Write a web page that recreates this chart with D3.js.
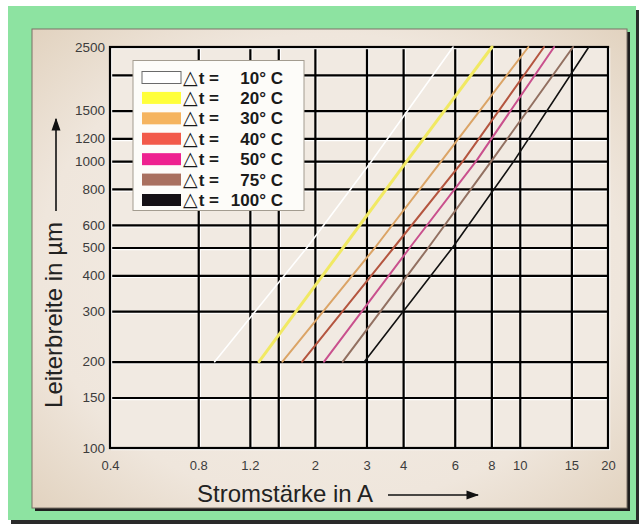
<!DOCTYPE html>
<html>
<head>
<meta charset="utf-8">
<script src="https://cdn.jsdelivr.net/npm/d3@7"></script>
<style>
  html, body { margin: 0; padding: 0; background: #ffffff; }
  svg { display: block; font-family: "Liberation Sans", Arial, sans-serif; }
</style>
</head>
<body>
<div id="chart"></div>
<script>
const widths = [200, 500, 1000, 2500];

// Stromstärke (A) je Temperaturerhöhung
const current10 = [0.91, 1.88, 3.12, 5.92];
const current20 = [1.29, 2.50, 4.12, 8.04];
const current30 = [1.55, 3.21, 5.40, 10.7];
const current40 = [1.81, 3.72, 6.40, 12.1];
const current50 = [2.15, 4.22, 7.10, 13.1];
const current75 = [2.49, 4.88, 8.00, 15.2];
const current100 = [2.95, 5.90, 9.55, 17.2];

const deltaT = ['10° C', '20° C', '30° C', '40° C', '50° C', '75° C', '100° C'];

const xTickLabels = [0.4, 0.8, 1.2, 2, 3, 4, 6, 8, 10, 15, 20];
const xGrid = [0.8, 1.2, 1.5, 2, 3, 4, 6, 8, 10, 15];
const yTickLabels = [100, 150, 200, 300, 400, 500, 600, 800, 1000, 1200, 1500, 2500];
const yGrid = [150, 200, 300, 400, 500, 600, 800, 1000, 1200, 1500, 2000];

const series = [current10, current20, current30, current40, current50, current75, current100];
const lineColors = ['#ffffff', '#f1e963', '#dba466', '#b4553f', '#c9508d', '#927061', '#111111'];
const lineWidths = [1.6, 3, 2, 2, 2, 2, 1.6];
const swatchColors = ['#ffffff', '#ffff3a', '#f5b45f', '#f25a4a', '#ee2290', '#a9705f', '#141014'];

const W = 639, H = 531;
const plot = { left: 110, right: 608, top: 47, bottom: 448 };

const svg = d3.select('#chart').append('svg')
    .attr('width', W)
    .attr('height', H);

const defs = svg.append('defs');
const grad = defs.append('radialGradient')
    .attr('id', 'paper')
    .attr('cx', '50%').attr('cy', '50%').attr('r', '70%');
grad.append('stop').attr('offset', '0%').attr('stop-color', '#f4eee7');
grad.append('stop').attr('offset', '70%').attr('stop-color', '#efe6dc');
grad.append('stop').attr('offset', '100%').attr('stop-color', '#e2d3c0');

// grüner Hintergrund mit Schatten
svg.append('rect').attr('x', 11).attr('y', 10).attr('width', 628).attr('height', 514).attr('fill', '#2a2a2a');
svg.append('rect').attr('x', 8).attr('y', 6).attr('width', 628).attr('height', 514).attr('fill', '#8de3a1');

// Papierfläche
svg.append('rect').attr('x', 35).attr('y', 32).attr('width', 595).attr('height', 479).attr('fill', '#1e1e1e');
svg.append('rect').attr('x', 32).attr('y', 29).attr('width', 595).attr('height', 479)
    .attr('fill', 'url(#paper)')
    .attr('stroke', '#7a7166').attr('stroke-width', 1);

// Skalen
const x = d3.scaleLog().domain([0.4, 20]).range([plot.left, plot.right]);
const y = d3.scaleLog().domain([100, 2500]).range([plot.bottom, plot.top]);
const innerW = plot.right - plot.left;
const innerH = plot.bottom - plot.top;

svg.append('rect')
    .attr('x', plot.left).attr('y', plot.top)
    .attr('width', innerW).attr('height', innerH)
    .attr('fill', '#f1eae2');

// Gitter: heller Schein, dann schwarze Linien
function drawGrid(offset, color, width) {
    const gx = svg.append('g')
        .attr('transform', `translate(${offset},${plot.bottom + offset})`)
        .call(d3.axisBottom(x).tickValues(xGrid).tickSize(-innerH).tickFormat(''));
    gx.select('.domain').remove();
    gx.selectAll('line').attr('stroke', color).attr('stroke-width', width);

    const gy = svg.append('g')
        .attr('transform', `translate(${plot.left + offset},${offset})`)
        .call(d3.axisLeft(y).tickValues(yGrid).tickSize(-innerW).tickFormat(''));
    gy.select('.domain').remove();
    gy.selectAll('line').attr('stroke', color).attr('stroke-width', width);
}
drawGrid(1.6, '#ffffff', 1.2);
drawGrid(0, '#000000', 2.2);

svg.append('rect')
    .attr('x', plot.left + 1.6).attr('y', plot.top + 1.6)
    .attr('width', innerW).attr('height', innerH)
    .attr('fill', 'none').attr('stroke', '#ffffff').attr('stroke-width', 1.2);
svg.append('rect')
    .attr('x', plot.left).attr('y', plot.top)
    .attr('width', innerW).attr('height', innerH)
    .attr('fill', 'none').attr('stroke', '#000000').attr('stroke-width', 2.2);

// Tick-Beschriftungen
const xLab = svg.append('g')
    .attr('transform', `translate(0,${plot.bottom})`)
    .call(d3.axisBottom(x).tickValues(xTickLabels).tickSize(0).tickPadding(13)
        .tickFormat(d => String(d)));
xLab.select('.domain').remove();
xLab.selectAll('text')
    .attr('font-family', '"Liberation Sans", Arial, sans-serif')
    .attr('font-size', 13).attr('fill', '#3c3c3c');

const yLab = svg.append('g')
    .attr('transform', `translate(${plot.left},0)`)
    .call(d3.axisLeft(y).tickValues(yTickLabels).tickSize(0).tickPadding(5)
        .tickFormat(d => String(d)));
yLab.select('.domain').remove();
yLab.selectAll('text')
    .attr('font-family', '"Liberation Sans", Arial, sans-serif')
    .attr('font-size', 13.5).attr('fill', '#3c3c3c');

// Kurven
const line = d3.line()
    .x(d => x(d[0]))
    .y(d => y(d[1]));

series.forEach((values, i) => {
    const pts = values.map((v, k) => [v, widths[k]]);
    svg.append('path')
        .datum(pts)
        .attr('d', line)
        .attr('fill', 'none')
        .attr('stroke', lineColors[i])
        .attr('stroke-width', lineWidths[i])
        .attr('stroke-linejoin', 'round')
        .attr('stroke-linecap', 'round');
});

// Legende
const legend = svg.append('g');
legend.append('rect')
    .attr('x', 133).attr('y', 60.5).attr('width', 171).attr('height', 150)
    .attr('fill', '#fdfcf9').attr('stroke', '#a39c90').attr('stroke-width', 1);

const rowY = d3.scaleLinear().domain([0, deltaT.length - 1]).range([77.5, 200]);
deltaT.forEach((label, i) => {
    const cy = rowY(i);
    legend.append('rect')
        .attr('x', 142).attr('y', cy - 6).attr('width', 39).attr('height', 12)
        .attr('fill', swatchColors[i])
        .attr('stroke', i === 0 ? '#6a6a6a' : 'none').attr('stroke-width', 1);
    const t = legend.append('text')
        .attr('x', 183).attr('y', cy + 6)
        .attr('font-size', 17).attr('font-weight', 'bold').attr('fill', '#1a1a1a');
    t.append('tspan')
        .attr('font-family', '"DejaVu Sans", sans-serif')
        .attr('font-weight', 'normal')
        .attr('font-size', 19)
        .text('△');
    t.append('tspan').attr('dx', 1).text('t =');
    legend.append('text')
        .attr('x', 283).attr('y', cy + 6)
        .attr('text-anchor', 'end')
        .attr('font-size', 17).attr('font-weight', 'bold').attr('fill', '#1a1a1a')
        .text(label);
});

// Achsentitel mit Pfeilen
defs.append('marker')
    .attr('id', 'arrow')
    .attr('viewBox', '0 0 10 10')
    .attr('refX', 9).attr('refY', 5)
    .attr('markerWidth', 8).attr('markerHeight', 8)
    .attr('orient', 'auto-start-reverse')
    .append('path').attr('d', 'M0,1.5 L10,5 L0,8.5 Z').attr('fill', '#111');

svg.append('text')
    .attr('transform', 'translate(62,315) rotate(-90)')
    .attr('text-anchor', 'middle')
    .attr('font-size', 24).attr('fill', '#222')
    .text('Leiterbreite in µm');
svg.append('line')
    .attr('x1', 56).attr('y1', 211).attr('x2', 56).attr('y2', 119)
    .attr('stroke', '#111').attr('stroke-width', 1.6)
    .attr('marker-end', 'url(#arrow)');

svg.append('text')
    .attr('x', 197).attr('y', 502)
    .attr('font-size', 24).attr('fill', '#222')
    .text('Stromstärke in A');
svg.append('line')
    .attr('x1', 388).attr('y1', 495).attr('x2', 478).attr('y2', 495)
    .attr('stroke', '#111').attr('stroke-width', 1.6)
    .attr('marker-end', 'url(#arrow)');
</script>
</body>
</html>
